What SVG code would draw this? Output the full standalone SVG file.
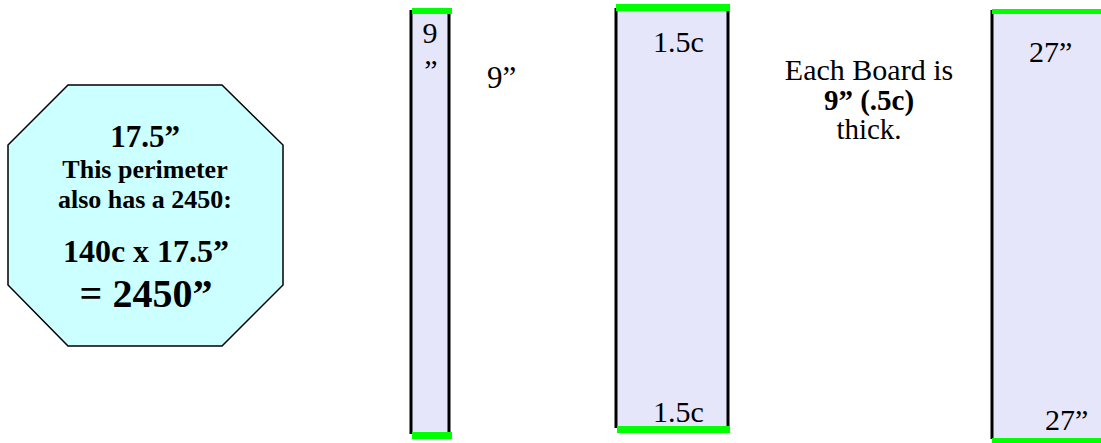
<svg xmlns="http://www.w3.org/2000/svg" width="1101" height="443" viewBox="0 0 1101 443">
<style>
.t{font-family:"Liberation Serif","DejaVu Serif",serif;font-weight:400;fill:#000}
.b{font-weight:bold}
.board{fill:#E6E6FA}
.side{stroke:#000;stroke-width:3;fill:none}
.green{fill:#00FF00}
</style>
<defs>
<clipPath id="c1"><rect x="411" y="10" width="38" height="421"/></clipPath>
</defs>
<rect width="1101" height="443" fill="#fff"/>
<g id="octagon">
<polygon points="68,85 222,85 283,145 283,285 222,346 68,346 8,285 8,145" fill="#CCFFFF" stroke="#000" stroke-width="1.5"/>
<text class="t b" x="145" y="147" font-size="31" text-anchor="middle">17.5”</text>
<text class="t b" x="145" y="178" font-size="26" text-anchor="middle">This perimeter</text>
<text class="t b" x="145" y="208" font-size="26" text-anchor="middle">also has a 2450:</text>
<text class="t b" x="146" y="262" font-size="32" text-anchor="middle">140c x 17.5”</text>
<text class="t b" x="146" y="307" font-size="40" text-anchor="middle">= 2450”</text>
</g>
<g id="board1">
<rect class="board" x="411" y="10" width="38" height="423"/>
<line class="side" x1="411" y1="10" x2="411" y2="434"/>
<line class="side" x1="449" y1="10" x2="449" y2="434"/>
<rect class="green" x="412" y="8" width="40" height="6"/>
<rect class="green" x="412" y="432" width="40" height="7"/>
<text class="t" x="430" y="43" font-size="30" text-anchor="middle">9</text>
<text class="t" x="431" y="80" font-size="30" text-anchor="middle">”</text>
<text class="t" x="429" y="451" font-size="30" text-anchor="middle" clip-path="url(#c1)">9</text>
</g>
<g id="label9">
<text class="t" x="487" y="88" font-size="31">9”</text>
</g>
<g id="board2">
<rect class="board" x="616" y="8" width="112" height="420"/>
<line class="side" x1="616" y1="8" x2="616" y2="428"/>
<line class="side" x1="728" y1="8" x2="728" y2="428"/>
<rect class="green" x="616" y="4" width="114" height="7"/>
<rect class="green" x="617" y="426" width="113" height="7"/>
<text class="t" x="653" y="52" font-size="30">1.5c</text>
<text class="t" x="653" y="422" font-size="30">1.5c</text>
</g>
<g id="note">
<text class="t" x="869" y="80" font-size="30" text-anchor="middle">Each Board is</text>
<text class="t b" x="869" y="110" font-size="29" text-anchor="middle">9” (.5c)</text>
<text class="t" x="869" y="139" font-size="29" text-anchor="middle">thick.</text>
</g>
<g id="board3">
<rect class="board" x="992" y="10" width="109" height="430"/>
<line class="side" x1="992" y1="10" x2="992" y2="439"/>
<rect class="green" x="992" y="9" width="109" height="5"/>
<rect class="green" x="992" y="438" width="109" height="5"/>
<text class="t" x="1029" y="62" font-size="30">27”</text>
<text class="t" x="1045" y="430" font-size="30">27”</text>
</g>
<g id="connectors"/>
</svg>
